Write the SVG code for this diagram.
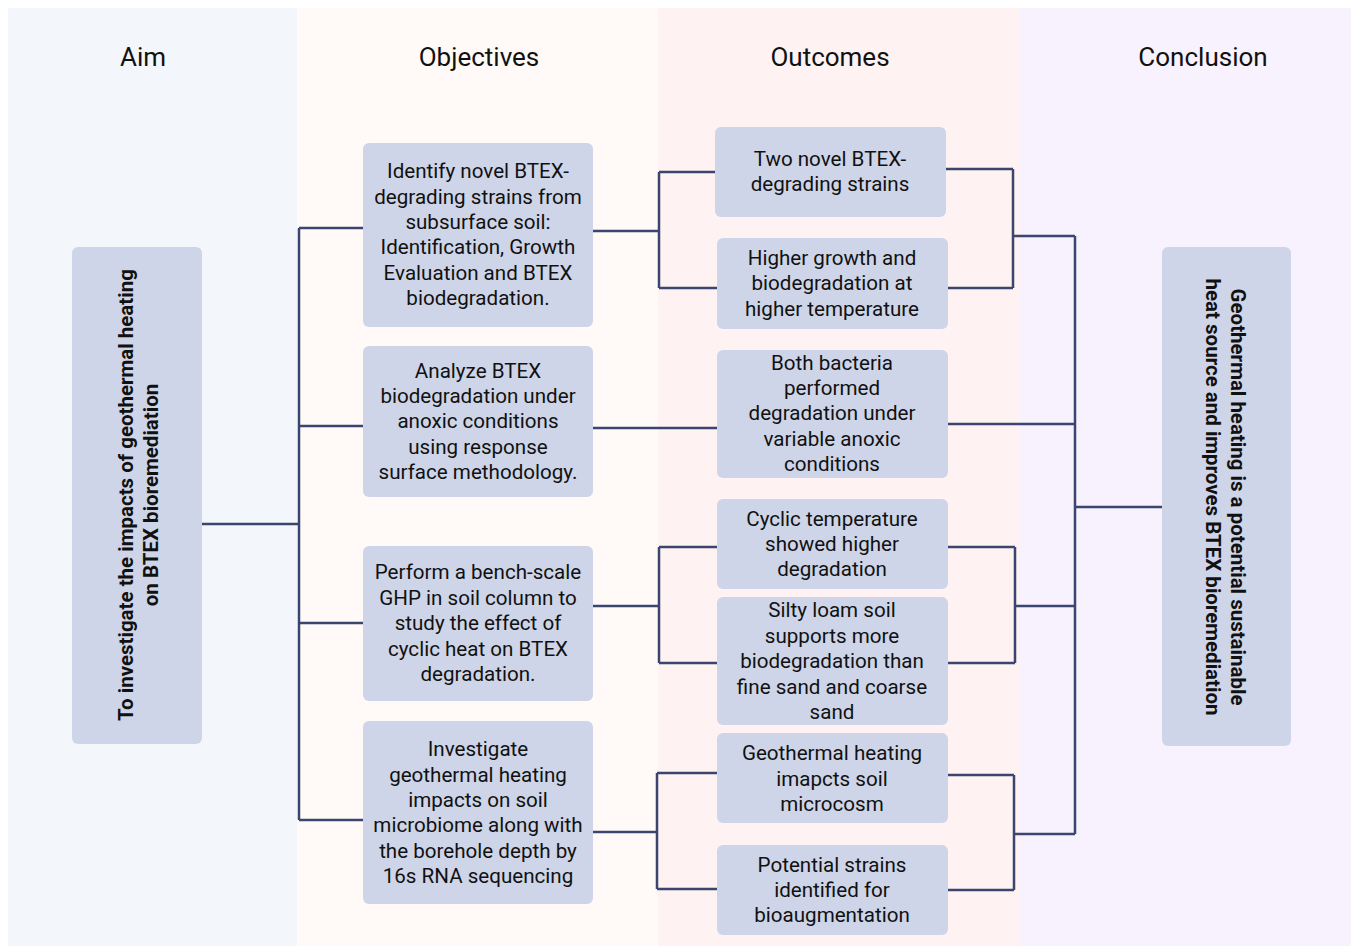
<svg xmlns="http://www.w3.org/2000/svg" width="1356" height="947" viewBox="0 0 1356 947">
<style>
.hdr{font-family:Roboto,"Liberation Sans",sans-serif;font-size:26px;fill:#111;text-anchor:middle}
.box{fill:#CED5E8}
.t{font-family:Roboto,"Liberation Sans",sans-serif;font-size:20.6px;fill:#111;text-anchor:middle;dominant-baseline:central}
.vt{font-family:Roboto,"Liberation Sans",sans-serif;font-size:20.5px;font-weight:bold;fill:#111;text-anchor:middle;dominant-baseline:central}
.c{fill:none;stroke:#3A4670;stroke-width:2.5}
</style>
<rect width="1356" height="947" fill="#ffffff"/>
<g id="columns">
<rect x="8" y="8" width="289" height="938" fill="#F3F6FB"/>
<rect x="297" y="8" width="361" height="938" fill="#FFFAF7"/>
<rect x="658" y="8" width="361" height="938" fill="#FEF2F2"/>
<rect x="1019" y="8" width="332" height="938" fill="#F7F2FD"/>
<text class="hdr" x="143" y="66">Aim</text>
<text class="hdr" x="479" y="66">Objectives</text>
<text class="hdr" x="830" y="66">Outcomes</text>
<text class="hdr" x="1203" y="66">Conclusion</text>
</g>
<g id="connectors">
<path class="c" d="M202,524H299M299,228V820M299,228H363M299,426H363M299,623H363M299,820H363"/>
<path class="c" d="M593,231H659M659,172V288M659,172H715M659,288H717"/>
<path class="c" d="M593,428H717"/>
<path class="c" d="M593,606H659M659,547V663M659,547H717M659,663H717"/>
<path class="c" d="M593,832H657M657,773V889M657,773H717M657,889H717"/>
<path class="c" d="M946,169H1013M948,288H1013M1013,169V288M1013,236H1075"/>
<path class="c" d="M948,424H1075"/>
<path class="c" d="M948,547H1015M948,663H1015M1015,547V663M1015,606H1075"/>
<path class="c" d="M948,775H1014M948,890H1014M1014,775V890M1014,834H1075"/>
<path class="c" d="M1075,236V834M1075,507H1162"/>
</g>
<g id="aim">
<rect class="box" x="72" y="247" width="130" height="497" rx="6"/>
<text class="vt" transform="translate(126,495) rotate(-90)">To investigate the impacts of geothermal heating</text>
<text class="vt" transform="translate(151,495) rotate(-90)">on BTEX bioremediation</text>
</g>
<g id="obj1">
<rect class="box" x="363" y="143" width="230" height="184" rx="6"/>
<text class="t" x="478" y="171">Identify novel BTEX-</text>
<text class="t" x="478" y="197">degrading strains from</text>
<text class="t" x="478" y="222">subsurface soil:</text>
<text class="t" x="478" y="247">Identification, Growth</text>
<text class="t" x="478" y="273">Evaluation and BTEX</text>
<text class="t" x="478" y="298">biodegradation.</text>
</g>
<g id="obj2">
<rect class="box" x="363" y="346" width="230" height="151" rx="6"/>
<text class="t" x="478" y="371">Analyze BTEX</text>
<text class="t" x="478" y="396">biodegradation under</text>
<text class="t" x="478" y="421">anoxic conditions</text>
<text class="t" x="478" y="447">using response</text>
<text class="t" x="478" y="472">surface methodology.</text>
</g>
<g id="obj3">
<rect class="box" x="363" y="546" width="230" height="155" rx="6"/>
<text class="t" x="478" y="572">Perform a bench-scale</text>
<text class="t" x="478" y="598">GHP in soil column to</text>
<text class="t" x="478" y="623">study the effect of</text>
<text class="t" x="478" y="649">cyclic heat on BTEX</text>
<text class="t" x="478" y="674">degradation.</text>
</g>
<g id="obj4">
<rect class="box" x="363" y="721" width="230" height="183" rx="6"/>
<text class="t" x="478" y="749">Investigate</text>
<text class="t" x="478" y="775">geothermal heating</text>
<text class="t" x="478" y="800">impacts on soil</text>
<text class="t" x="478" y="825">microbiome along with</text>
<text class="t" x="478" y="851">the borehole depth by</text>
<text class="t" x="478" y="876">16s RNA sequencing</text>
</g>
<g id="out1">
<rect class="box" x="715" y="127" width="231" height="90" rx="6"/>
<text class="t" x="830" y="159">Two novel BTEX-</text>
<text class="t" x="830" y="184">degrading strains</text>
</g>
<g id="out2">
<rect class="box" x="717" y="238" width="231" height="91" rx="6"/>
<text class="t" x="832" y="258">Higher growth and</text>
<text class="t" x="832" y="283">biodegradation at</text>
<text class="t" x="832" y="309">higher temperature</text>
</g>
<g id="out3">
<rect class="box" x="717" y="350" width="231" height="128" rx="6"/>
<text class="t" x="832" y="363">Both bacteria</text>
<text class="t" x="832" y="388">performed</text>
<text class="t" x="832" y="413">degradation under</text>
<text class="t" x="832" y="439">variable anoxic</text>
<text class="t" x="832" y="464">conditions</text>
</g>
<g id="out4">
<rect class="box" x="717" y="499" width="231" height="90" rx="6"/>
<text class="t" x="832" y="519">Cyclic temperature</text>
<text class="t" x="832" y="544">showed higher</text>
<text class="t" x="832" y="569">degradation</text>
</g>
<g id="out5">
<rect class="box" x="717" y="597" width="231" height="128" rx="6"/>
<text class="t" x="832" y="610">Silty loam soil</text>
<text class="t" x="832" y="636">supports more</text>
<text class="t" x="832" y="661">biodegradation than</text>
<text class="t" x="832" y="687">fine sand and coarse</text>
<text class="t" x="832" y="712">sand</text>
</g>
<g id="out6">
<rect class="box" x="717" y="733" width="231" height="90" rx="6"/>
<text class="t" x="832" y="753">Geothermal heating</text>
<text class="t" x="832" y="779">imapcts soil</text>
<text class="t" x="832" y="804">microcosm</text>
</g>
<g id="out7">
<rect class="box" x="717" y="845" width="231" height="90" rx="6"/>
<text class="t" x="832" y="865">Potential strains</text>
<text class="t" x="832" y="890">identified for</text>
<text class="t" x="832" y="915">bioaugmentation</text>
</g>
<g id="conclusion">
<rect class="box" x="1162" y="247" width="129" height="499" rx="6"/>
<text class="vt" transform="translate(1238,497) rotate(90)">Geothermal heating is a potential sustainable</text>
<text class="vt" transform="translate(1213,497) rotate(90)">heat source and improves BTEX bioremediation</text>
</g>
</svg>
